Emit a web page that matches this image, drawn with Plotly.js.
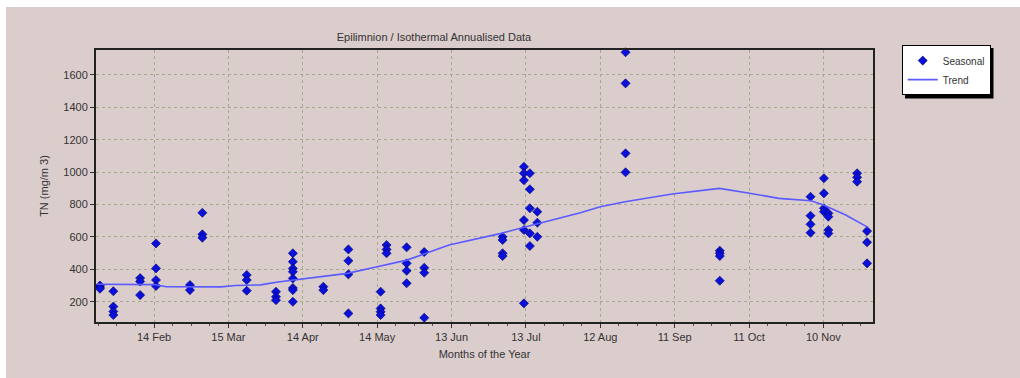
<!DOCTYPE html>
<html>
<head>
<meta charset="utf-8">
<script src="https://cdn.plot.ly/plotly-3.0.1.min.js"></script>
<style>
html,body{margin:0;padding:0;background:#ffffff;}
#chart{position:absolute;left:6px;top:7px;width:1014px;height:371px;}
</style>
</head>
<body>
<div id="chart"></div>
<script>
// Day-of-year positions and TN values (mg/m3) of the seasonal samples
const seasonalDay = [
  23.2,23.2,23.2,
  28.6,28.6,28.6,28.6,
  39.4,39.4,39.4,
  45.8,45.8,45.8,45.8,
  59.5,59.5,
  64.5,64.5,64.5,
  82.4,82.4,82.4,
  94.2,94.2,94.2,
  101,101,101,101,101,101,101,101,
  113.3,113.3,
  123.4,123.4,123.4,123.4,
  136.4,136.4,136.4,136.4,
  138.8,138.8,138.8,
  146.9,146.9,146.9,146.9,
  154,154,154,154,
  185.6,185.6,185.6,185.6,
  194.2,194.2,194.2,194.2,194.2,194.2,
  196.6,196.6,196.6,196.6,196.6,
  199.6,199.6,199.6,
  235.2,235.2,235.2,235.2,
  273.2,273.2,273.2,273.2,
  309.8,309.8,309.8,309.8,
  315.2,315.2,315.2,315.2,
  317,317,317,317,
  328.6,328.6,328.6,
  332.6,332.6,332.6
];
const seasonalTN = [
  300,290,280,
  265,170,140,118,
  346,325,241,
  560,406,334,297,
  303,272,
  749,616,595,
  365,334,268,
  262,231,210,
  499,447,406,385,344,285,272,200,
  293,272,
  523,453,369,128,
  262,159,138,118,
  550,523,499,
  536,437,391,314,
  507,410,379,101,
  601,581,499,482,
  1033,993,950,704,643,190,
  993,894,777,622,544,
  756,688,601,
  1740,1548,1116,999,
  515,499,482,330,
  848,731,678,626,
  962,869,777,756,
  746,725,643,622,
  993,968,941,
  636,567,437
];
// Trend curve
const trendDay = [22,45,50,72,78,88,95,104,123,135,147,164,185,195,217,225,235,254,273,284,297,310,315,324,333];
const trendTN  = [308,306,293,292,300,304,322,340,375,416,457,550,622,663,749,786,817,865,900,873,838,823,797,735,659];
// Axis ticks
const tickDays = [45,75,105,135,165,195,225,255,285,315];
const tickLabels = ['14 Feb','15 Mar','14 Apr','14 May','13 Jun','13 Jul','12 Aug','11 Sep','11 Oct','10 Nov'];
const yTicks = [200,400,600,800,1000,1200,1400,1600];

const fontFam = '"Liberation Sans", Arial, sans-serif';
const txtCol = '#333333';

const traces = [
  {
    x: seasonalDay, y: seasonalTN, type: 'scatter', mode: 'markers', name: 'Seasonal',
    marker: {symbol: 'diamond', size: 7, color: '#0a10dc', line: {color: '#000060', width: 0.6}},
    cliponaxis: false
  },
  {
    x: trendDay, y: trendTN, type: 'scatter', mode: 'lines', name: 'Trend',
    line: {color: '#5a5aff', width: 1.6}
  }
];

const layout = {
  width: 1014, height: 371,
  paper_bgcolor: '#dccdcd',
  plot_bgcolor: 'rgba(0,0,0,0)',
  margin: {l: 90, r: 147, t: 43, b: 56, pad: 0},
  font: {family: fontFam, size: 11, color: txtCol},
  title: {
    text: 'Epilimnion / Isothermal Annualised Data',
    x: 0.435, xref: 'paper', xanchor: 'center',
    y: 0.92, yref: 'container', yanchor: 'middle',
    font: {family: fontFam, size: 11, color: txtCol}
  },
  xaxis: {
    range: [21.6, 335],
    tickvals: tickDays, ticktext: tickLabels,
    ticks: 'outside', ticklen: 4, tickcolor: '#333',
    tickfont: {family: fontFam, size: 11, color: txtCol},
    showgrid: true, gridcolor: '#a3ab8c', griddash: 'dot', gridwidth: 1,
    zeroline: false,
    showline: true, linecolor: '#222', linewidth: 2, mirror: true,
    minor: {tick0: 45, dtick: 7.5, ticks: 'outside', ticklen: 2, tickcolor: '#555', showgrid: false},
    title: {text: 'Months of the Year', standoff: 8, font: {family: fontFam, size: 11, color: txtCol}}
  },
  yaxis: {
    range: [75, 1754],
    tickvals: yTicks,
    ticks: 'outside', ticklen: 4, tickcolor: '#333',
    tickfont: {family: fontFam, size: 11, color: txtCol},
    showgrid: true, gridcolor: '#a3ab8c', griddash: 'dot', gridwidth: 1,
    zeroline: false,
    showline: true, linecolor: '#222', linewidth: 2, mirror: true,
    title: {text: 'TN (mg/m 3)', standoff: 12, font: {family: fontFam, size: 11, color: txtCol}}
  },
  showlegend: true,
  legend: {
    x: 1.037, xref: 'paper', xanchor: 'left',
    y: 1.018, yref: 'paper', yanchor: 'top',
    bgcolor: '#ffffff', bordercolor: '#000000', borderwidth: 1,
    font: {family: fontFam, size: 10, color: txtCol},
    tracegroupgap: 0, itemwidth: 30
  },
  shapes: [
    {type: 'rect', xref: 'paper', yref: 'paper', layer: 'below',
     x0: (905-96)/777, x1: (993.5-96)/777, y0: (322-48)/272, y1: (322-98.5)/272,
     fillcolor: '#000000', line: {width: 0}}
  ]
};

Plotly.newPlot('chart', traces, layout, {displayModeBar: false, staticPlot: true});
</script>
</body>
</html>
